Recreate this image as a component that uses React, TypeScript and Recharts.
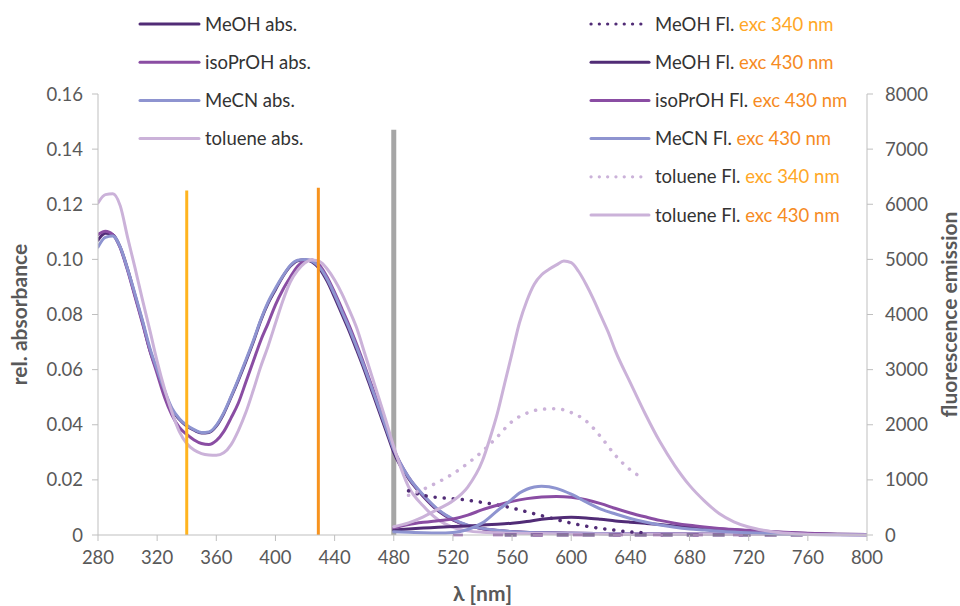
import React from "react";
import { LineChart, Line, XAxis, YAxis, Label } from "recharts";

const FONT = "Lato, 'Open Sans', 'DejaVu Sans', sans-serif";

// ---------- axis ticks ----------
const xTicks = [280, 320, 360, 400, 440, 480, 520, 560, 600, 640, 680, 720, 760, 800];
const absTicks = [0, 0.02, 0.04, 0.06, 0.08, 0.1, 0.12, 0.14, 0.16];
const flTicks = [0, 1000, 2000, 3000, 4000, 5000, 6000, 7000, 8000];

// ---------- absorbance (left axis) ----------
const absWavelengths = [
  280, 285, 290, 295, 300, 305, 310, 315, 320, 325, 330, 335, 340, 345, 350, 355, 360, 365, 370, 375,
  380, 385, 390, 395, 400, 405, 410, 415, 420, 425, 430, 435, 440, 445, 450, 455, 460, 465, 470, 475,
  480, 490, 500, 510, 520, 530, 540, 550, 560, 580, 600, 650, 700, 750, 800,
];
const meohAbs = [
  0.107, 0.1095, 0.109, 0.1045, 0.0965, 0.087, 0.0775, 0.0672, 0.0595, 0.052, 0.0455, 0.042, 0.0395, 0.038, 0.037, 0.0372, 0.0395, 0.044, 0.05, 0.0563,
  0.063, 0.07, 0.0777, 0.084, 0.089, 0.0938, 0.0975, 0.0995, 0.0999, 0.099, 0.0965, 0.092, 0.0862, 0.08, 0.0738, 0.067, 0.06, 0.0525, 0.045, 0.0375,
  0.03, 0.0205, 0.014, 0.0088, 0.0055, 0.0034, 0.0023, 0.0016, 0.0012, 0.0008, 0.0006, 0.0004, 0.0003, 0.0003, 0.0002,
];
const isoprohAbs = [
  0.109, 0.1102, 0.109, 0.1042, 0.096, 0.0865, 0.077, 0.067, 0.0585, 0.05, 0.0435, 0.039, 0.0365, 0.0345, 0.0332, 0.0328, 0.0342, 0.0375, 0.0425, 0.048,
  0.0555, 0.063, 0.0705, 0.0768, 0.0835, 0.089, 0.0935, 0.0975, 0.0995, 0.0998, 0.0978, 0.0935, 0.088, 0.082, 0.0758, 0.069, 0.0618, 0.0543, 0.0467, 0.039,
  0.0312, 0.021, 0.0143, 0.009, 0.0056, 0.0035, 0.0023, 0.0016, 0.0012, 0.0008, 0.0006, 0.0004, 0.0003, 0.0002, 0.0002,
];
const mecnAbs = [
  0.1045, 0.108, 0.1085, 0.1045, 0.0965, 0.0875, 0.078, 0.068, 0.06, 0.0525, 0.046, 0.0422, 0.0398, 0.0382, 0.0372, 0.0374, 0.0398, 0.0443, 0.0503, 0.0567,
  0.0635, 0.0705, 0.078, 0.0845, 0.0895, 0.094, 0.0978, 0.0997, 0.1, 0.0993, 0.097, 0.0928, 0.0872, 0.081, 0.0748, 0.068, 0.061, 0.0535, 0.046, 0.0385,
  0.031, 0.021, 0.0145, 0.0092, 0.0058, 0.0036, 0.0024, 0.0017, 0.0012, 0.0008, 0.0006, 0.0004, 0.0003, 0.0002, 0.0002,
];
const tolueneAbs = [
  0.1205, 0.1235, 0.1238, 0.1195, 0.108, 0.097, 0.0855, 0.0744, 0.063, 0.053, 0.0445, 0.0375, 0.0332, 0.0308, 0.0295, 0.029, 0.0289, 0.0298, 0.0328, 0.038,
  0.0445, 0.0525, 0.061, 0.0685, 0.0768, 0.085, 0.0918, 0.096, 0.0988, 0.0998, 0.0992, 0.0965, 0.0925, 0.0875, 0.0815, 0.075, 0.0665, 0.058, 0.0495, 0.041,
  0.032, 0.0175, 0.0105, 0.0055, 0.0028, 0.0015, 0.001, 0.0008, 0.0006, 0.0005, 0.0004, 0.0003, 0.0002, 0.0002, 0.0001,
];

// ---------- fluorescence (right axis) ----------
const meohFl340Wl = [490, 500, 510, 520, 530, 540, 550, 560, 570, 580, 590, 600, 610, 620, 630, 640, 650];
const meohFl340 = [800, 720, 680, 660, 630, 590, 545, 490, 420, 350, 280, 215, 160, 120, 85, 55, 40];

const fl430Wl = [480, 490, 500, 510, 520, 530, 540, 550, 560, 570, 580, 590, 600, 610, 620, 630, 640, 650, 660, 670, 680, 690, 700, 720, 740, 760, 780, 800];
const meohFl430 = [90, 110, 125, 140, 155, 165, 180, 195, 215, 245, 285, 310, 320, 310, 285, 255, 232, 212, 190, 165, 145, 125, 110, 75, 50, 25, 10, 5];
const isoprohFl430 = [130, 190, 230, 260, 290, 360, 460, 540, 610, 660, 690, 700, 685, 640, 570, 480, 400, 330, 265, 215, 175, 145, 120, 85, 55, 30, 15, 8];

const mecnFl430Wl = [480, 490, 500, 510, 520, 530, 540, 550, 560, 565, 570, 575, 580, 585, 590, 600, 610, 620, 630, 640, 650, 660, 670, 680, 690, 700, 720, 740, 760, 800];
const mecnFl430 = [60, 50, 40, 35, 45, 100, 220, 440, 650, 760, 830, 870, 885, 875, 845, 740, 600, 470, 380, 300, 235, 180, 140, 110, 90, 70, 40, 20, 10, 0];

const tolFl340Wl = [490, 500, 510, 520, 530, 540, 550, 560, 570, 580, 590, 600, 610, 620, 630, 640, 648];
const tolFl340 = [720, 830, 960, 1110, 1300, 1520, 1780, 2060, 2210, 2280, 2290, 2220, 2070, 1780, 1440, 1180, 1040];

const tolFl430Wl = [480, 490, 500, 510, 520, 530, 540, 545, 550, 555, 560, 565, 570, 575, 580, 585, 590, 595, 600, 605, 610, 615, 620, 625, 630, 640, 650, 660, 670, 680, 690, 700, 710, 720, 730, 740, 760, 780, 800];
const tolFl430 = [150, 220, 330, 470, 620, 870, 1350, 1750, 2200, 2750, 3300, 3850, 4250, 4550, 4720, 4820, 4900, 4970, 4940, 4780, 4550, 4280, 3980, 3680, 3330, 2760, 2200, 1690, 1260, 900, 620, 390, 240, 145, 85, 45, 15, 5, 0];

// near-zero traces drawn dashed along the baseline
const baseDashAWl = [555, 760];
const baseDashA = [0, 0];
const baseDashBWl = [520, 720];
const baseDashB = [0, 0];

// ---------- excitation / marker lines ----------
const exc340Wl = [340, 340];
const exc340Abs = [0, 0.125];
const exc430Wl = [429, 429];
const exc430Abs = [0, 0.126];
const markerWl = [480, 480];
const markerAbs = [0, 0.147];

// ---------- colours ----------
const C_MEOH = "#512C76";
const C_ISO = "#8A4DA3";
const C_MECN = "#8E94D0";
const C_TOL = "#CBB2D9";
const C_EXC340 = "#FFB41F";
const C_EXC430 = "#F7931E";
const C_EXC340_TXT = "#FFA726";
const C_EXC430_TXT = "#F68B1F";
const C_MARK = "#A6A6A6";
const AXIS = "#BFBFBF";
const TICK_TXT = "#595959";

const toPoints = (xs: number[], ys: number[]) => xs.map((x, i) => ({ x, y: ys[i] }));

type S = { key: string; xs: number[]; ys: number[]; axis: "abs" | "fl"; color: string; width: number; dash?: string; cap?: "round" | "butt" };

const DOT = "0.1 9";

const seriesList: S[] = [
  { key: "marker", xs: markerWl, ys: markerAbs, axis: "abs", color: C_MARK, width: 5, cap: "butt" },
  { key: "meohAbs", xs: absWavelengths, ys: meohAbs, axis: "abs", color: C_MEOH, width: 3 },
  { key: "isoAbs", xs: absWavelengths, ys: isoprohAbs, axis: "abs", color: C_ISO, width: 3 },
  { key: "mecnAbs", xs: absWavelengths, ys: mecnAbs, axis: "abs", color: C_MECN, width: 3 },
  { key: "tolAbs", xs: absWavelengths, ys: tolueneAbs, axis: "abs", color: C_TOL, width: 3 },
  { key: "dashA", xs: baseDashAWl, ys: baseDashA, axis: "fl", color: C_MEOH, width: 3, dash: "12 14", cap: "butt" },
  { key: "dashB", xs: baseDashBWl, ys: baseDashB, axis: "fl", color: C_ISO, width: 2.5, dash: "10 30", cap: "butt" },
  { key: "meohFl340", xs: meohFl340Wl, ys: meohFl340, axis: "fl", color: C_MEOH, width: 3.5, dash: DOT, cap: "round" },
  { key: "meohFl430", xs: fl430Wl, ys: meohFl430, axis: "fl", color: C_MEOH, width: 3 },
  { key: "isoFl430", xs: fl430Wl, ys: isoprohFl430, axis: "fl", color: C_ISO, width: 3 },
  { key: "mecnFl430", xs: mecnFl430Wl, ys: mecnFl430, axis: "fl", color: C_MECN, width: 3 },
  { key: "tolFl340", xs: tolFl340Wl, ys: tolFl340, axis: "fl", color: C_TOL, width: 3.5, dash: DOT, cap: "round" },
  { key: "tolFl430", xs: tolFl430Wl, ys: tolFl430, axis: "fl", color: C_TOL, width: 3 },
  { key: "exc340", xs: exc340Wl, ys: exc340Abs, axis: "abs", color: C_EXC340, width: 3, cap: "butt" },
  { key: "exc430", xs: exc430Wl, ys: exc430Abs, axis: "abs", color: C_EXC430, width: 3, cap: "butt" },
];

// ---------- legend ----------
const legendLeft = [
  { name: "MeOH abs.", color: C_MEOH },
  { name: "isoPrOH abs.", color: C_ISO },
  { name: "MeCN abs.", color: C_MECN },
  { name: "toluene abs.", color: C_TOL },
];
const legendRight = [
  { name: "MeOH Fl. ", exc: "exc 340 nm", excColor: C_EXC340_TXT, color: C_MEOH, dotted: true },
  { name: "MeOH Fl. ", exc: "exc 430 nm", excColor: C_EXC430_TXT, color: C_MEOH, dotted: false },
  { name: "isoPrOH Fl. ", exc: "exc 430 nm", excColor: C_EXC430_TXT, color: C_ISO, dotted: false },
  { name: "MeCN Fl. ", exc: "exc 430 nm", excColor: C_EXC430_TXT, color: C_MECN, dotted: false },
  { name: "toluene Fl. ", exc: "exc 340 nm", excColor: C_EXC340_TXT, color: C_TOL, dotted: true },
  { name: "toluene Fl. ", exc: "exc 430 nm", excColor: C_EXC430_TXT, color: C_TOL, dotted: false },
];

const LEG_FS = 18.5;
const LEG_TXT = "#333333";
const TITLE_FS = 21;

function LegendOverlay() {
  const rowY = (i: number) => 24 + i * 38.2;
  return (
    <svg width={960} height={240} style={{ position: "absolute", left: 0, top: 0, pointerEvents: "none" }}>
      {legendLeft.map((e, i) => (
        <g key={"l" + i}>
          <line x1={140} x2={199} y1={rowY(i)} y2={rowY(i)} stroke={e.color} strokeWidth={3} strokeLinecap="round" />
          <text x={205} y={rowY(i) + 6.6} fontFamily={FONT} fontSize={LEG_FS} fill={LEG_TXT}>{e.name}</text>
        </g>
      ))}
      {legendRight.map((e, i) => (
        <g key={"r" + i}>
          <line x1={591} x2={649} y1={rowY(i)} y2={rowY(i)} stroke={e.color} strokeWidth={e.dotted ? 3.2 : 3}
            strokeLinecap="round" strokeDasharray={e.dotted ? "0.1 8.2" : undefined} />
          <text x={655} y={rowY(i) + 6.6} fontFamily={FONT} fontSize={LEG_FS} fill={LEG_TXT} style={{ whiteSpace: "pre" }}>
            {e.name}
            <tspan fill={e.excColor}>{e.exc}</tspan>
          </text>
        </g>
      ))}
    </svg>
  );
}

const VerticalTitle = (props: any) => {
  const { viewBox, value, side } = props;
  const cx = side === "left" ? viewBox.x + 18 : viewBox.x + viewBox.width - 12;
  const cy = viewBox.y + viewBox.height / 2;
  return (
    <text x={cx} y={cy} transform={`rotate(-90 ${cx} ${cy})`} textAnchor="middle" dominantBaseline="central"
      fill={TICK_TXT} fontWeight={700} fontSize={TITLE_FS} fontFamily={FONT}>
      {value}
    </text>
  );
};

const tickStyle = { fill: TICK_TXT, fontSize: 18.5, fontFamily: FONT };

export default function App() {
  return (
    <div style={{ position: "absolute", left: 0, top: 0, width: 960, height: 606, background: "#ffffff" }}>
      <LineChart width={960} height={606} margin={{ top: 94, right: 0, bottom: 0, left: 0 }}>
        <XAxis
          dataKey="x"
          type="number"
          domain={[280, 800]}
          ticks={xTicks}
          interval={0}
          allowDataOverflow
          height={71}
          tickSize={6}
          tickMargin={10}
          stroke={AXIS}
          tick={tickStyle}
        >
          <Label
            value="λ [nm]"
            position="insideBottom"
            offset={5}
            style={{ fontWeight: 700, fill: TICK_TXT, fontSize: TITLE_FS, fontFamily: FONT }}
          />
        </XAxis>
        <YAxis
          yAxisId="abs"
          orientation="left"
          width={98}
          type="number"
          domain={[0, 0.16]}
          ticks={absTicks}
          interval={0}
          tickSize={6}
          tickMargin={9}
          stroke={AXIS}
          tick={tickStyle}
          tickFormatter={(v: number) => (v === 0 ? "0" : v.toFixed(2))}
        >
          <Label content={(p: any) => <VerticalTitle {...p} value="rel. absorbance" side="left" />} />
        </YAxis>
        <YAxis
          yAxisId="fl"
          orientation="right"
          width={93}
          type="number"
          domain={[0, 8000]}
          ticks={flTicks}
          interval={0}
          tickSize={6}
          tickMargin={12}
          stroke={AXIS}
          tick={tickStyle}
        >
          <Label content={(p: any) => <VerticalTitle {...p} value="fluorescence emission" side="right" />} />
        </YAxis>
        {seriesList.map((s) => (
          <Line
            key={s.key}
            data={toPoints(s.xs, s.ys)}
            dataKey="y"
            yAxisId={s.axis}
            type={s.xs.length > 2 ? "monotone" : "linear"}
            stroke={s.color}
            strokeWidth={s.width}
            strokeDasharray={s.dash}
            strokeLinecap={s.cap ?? "round"}
            strokeLinejoin="round"
            dot={false}
            activeDot={false}
            isAnimationActive={false}
            legendType="none"
          />
        ))}
      </LineChart>
      <LegendOverlay />
    </div>
  );
}
